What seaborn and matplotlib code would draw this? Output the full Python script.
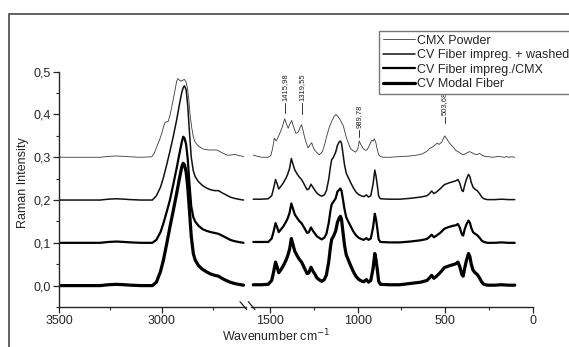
import numpy as np
import pandas as pd
import matplotlib
matplotlib.use("Agg")
import matplotlib.pyplot as plt
import seaborn as sns
from matplotlib.patches import Rectangle
from matplotlib.lines import Line2D

sns.set_style("ticks")
plt.rcParams['font.family'] = ['Liberation Sans', 'DejaVu Sans']

series_names = ["CMX Powder", "CV Fiber impreg. + washed", "CV Fiber impreg./CMX", "CV Modal Fiber"]

# ---- high wavenumber region (left panel) ----
wn_cmx_left = [3500, 3400, 3300, 3260, 3220, 3180, 3150, 3100, 3048, 3035, 3023, 3010, 2999, 2990,
               2983, 2975, 2967, 2958, 2950, 2942, 2934, 2926, 2920, 2912, 2905, 2897, 2889, 2880,
               2873, 2866, 2861, 2853, 2845, 2837, 2820, 2796, 2770, 2747, 2730, 2715, 2698, 2680,
               2666, 2650, 2641, 2625, 2610, 2600]
cmx_left = [0.300, 0.300, 0.300, 0.302, 0.303, 0.302, 0.301, 0.300, 0.301, 0.310, 0.325, 0.340, 0.356, 0.372,
            0.381, 0.383, 0.384, 0.400, 0.418, 0.438, 0.457, 0.478, 0.484, 0.480, 0.478, 0.480, 0.482, 0.476,
            0.460, 0.430, 0.400, 0.370, 0.348, 0.336, 0.326, 0.319, 0.317, 0.317, 0.317, 0.313, 0.309, 0.305,
            0.305, 0.306, 0.307, 0.304, 0.303, 0.301]

wn_cv_left = [3500, 3400, 3300, 3260, 3220, 3180, 3150, 3100, 3045, 3025, 3005, 2991, 2975, 2959, 2942,
              2926, 2912, 2901, 2894, 2888, 2880, 2872, 2864, 2855, 2845, 2836, 2820, 2800, 2780, 2760,
              2740, 2722, 2705, 2685, 2665, 2645, 2625, 2600]
washed_left = [0.200, 0.200, 0.200, 0.202, 0.203, 0.202, 0.201, 0.200, 0.200, 0.210, 0.230, 0.252, 0.282, 0.314, 0.350,
               0.388, 0.425, 0.452, 0.463, 0.467, 0.458, 0.420, 0.360, 0.300, 0.268, 0.255, 0.243, 0.234, 0.228, 0.224,
               0.222, 0.222, 0.217, 0.212, 0.207, 0.204, 0.202, 0.200]
impreg_left = [0.100, 0.100, 0.100, 0.102, 0.103, 0.102, 0.101, 0.100, 0.100, 0.107, 0.125, 0.145, 0.172, 0.200, 0.238,
               0.275, 0.310, 0.336, 0.348, 0.345, 0.330, 0.295, 0.240, 0.185, 0.160, 0.150, 0.140, 0.132, 0.128, 0.125,
               0.123, 0.121, 0.117, 0.112, 0.107, 0.104, 0.102, 0.100]
modal_left = [0.000, 0.000, 0.000, 0.002, 0.003, 0.002, 0.001, 0.000, 0.000, 0.008, 0.033, 0.059, 0.097, 0.137, 0.177,
              0.216, 0.252, 0.278, 0.286, 0.282, 0.266, 0.230, 0.176, 0.115, 0.075, 0.060, 0.047, 0.038, 0.032, 0.027,
              0.024, 0.022, 0.017, 0.012, 0.008, 0.005, 0.003, 0.001]

# ---- fingerprint region (right panel) ----
wn_cmx_right = [1595, 1570, 1547, 1510, 1495, 1485, 1475, 1465, 1455, 1443, 1430, 1416, 1406, 1396, 1386, 1376,
                1366, 1352, 1340, 1330, 1319, 1310, 1300, 1290, 1282, 1270, 1262, 1252, 1244, 1230, 1219, 1208,
                1200, 1188, 1177, 1163, 1149, 1135, 1124, 1112, 1100, 1090, 1082, 1072, 1063, 1050, 1040, 1025,
                1012, 1000, 991, 982, 968, 955, 945, 930, 920, 912, 905, 896, 888, 880, 870, 854, 820, 780, 740,
                700, 664, 630, 605, 590, 570, 555, 545, 535, 520, 510, 503, 495, 484, 470, 455, 440, 427, 410,
                398, 385, 370, 360, 345, 330, 320, 305, 290, 275, 250, 227, 200, 180, 160, 151, 140, 120, 104]
cmx_right = [0.305, 0.302, 0.300, 0.300, 0.304, 0.320, 0.345, 0.338, 0.345, 0.357, 0.370, 0.390, 0.378, 0.368, 0.378, 0.386,
             0.372, 0.356, 0.358, 0.368, 0.376, 0.360, 0.343, 0.330, 0.322, 0.330, 0.334, 0.322, 0.316, 0.310, 0.306, 0.310,
             0.314, 0.330, 0.348, 0.368, 0.383, 0.395, 0.400, 0.395, 0.388, 0.380, 0.374, 0.358, 0.344, 0.330, 0.320, 0.315,
             0.312, 0.318, 0.338, 0.330, 0.320, 0.316, 0.318, 0.330, 0.340, 0.338, 0.343, 0.334, 0.318, 0.306, 0.302, 0.300,
             0.300, 0.301, 0.302, 0.303, 0.305, 0.308, 0.314, 0.320, 0.325, 0.330, 0.333, 0.330, 0.336, 0.345, 0.350, 0.345,
             0.338, 0.330, 0.324, 0.316, 0.313, 0.308, 0.306, 0.308, 0.312, 0.313, 0.310, 0.307, 0.306, 0.309, 0.305, 0.302,
             0.301, 0.300, 0.302, 0.301, 0.300, 0.302, 0.300, 0.301, 0.300]

wn_cv_right = [1595, 1550, 1510, 1490, 1480, 1468, 1460, 1450, 1436, 1424, 1410, 1400, 1388, 1378, 1368, 1358,
               1345, 1335, 1320, 1310, 1300, 1288, 1278, 1266, 1255, 1244, 1232, 1220, 1205, 1190, 1178, 1165,
               1155, 1148, 1138, 1125, 1115, 1105, 1098, 1092, 1085, 1075, 1065, 1055, 1040, 1025, 1010, 995,
               980, 965, 950, 938, 925, 912, 902, 895, 888, 880, 870, 820, 760, 700, 640, 605, 590, 578, 565,
               550, 530, 505, 480, 455, 440, 428, 418, 405, 398, 390, 380, 368, 360, 352, 342, 330, 318, 305,
               292, 280, 260, 220, 180, 140, 104]
modal_right = [0.002, 0.002, 0.003, 0.012, 0.030, 0.055, 0.045, 0.030, 0.038, 0.046, 0.058, 0.068, 0.085, 0.110, 0.095, 0.080,
               0.070, 0.063, 0.055, 0.047, 0.038, 0.028, 0.030, 0.043, 0.034, 0.027, 0.018, 0.014, 0.010, 0.014, 0.025, 0.055,
               0.090, 0.108, 0.115, 0.128, 0.148, 0.158, 0.162, 0.155, 0.130, 0.095, 0.072, 0.062, 0.047, 0.033, 0.022, 0.015,
               0.011, 0.009, 0.014, 0.008, 0.012, 0.040, 0.075, 0.060, 0.038, 0.010, 0.003, 0.002, 0.002, 0.005, 0.008, 0.012,
               0.018, 0.024, 0.017, 0.022, 0.030, 0.042, 0.046, 0.049, 0.051, 0.055, 0.045, 0.025, 0.022, 0.040, 0.058, 0.075,
               0.068, 0.050, 0.036, 0.030, 0.026, 0.018, 0.008, 0.003, 0.001, 0.001, 0.002, 0.001, 0.001]
impreg_right = [0.102, 0.102, 0.102, 0.110, 0.125, 0.146, 0.138, 0.125, 0.132, 0.138, 0.148, 0.156, 0.170, 0.192, 0.179, 0.166,
                0.158, 0.152, 0.146, 0.139, 0.132, 0.123, 0.125, 0.136, 0.128, 0.122, 0.115, 0.112, 0.108, 0.112, 0.121, 0.146,
                0.175, 0.190, 0.196, 0.204, 0.220, 0.224, 0.227, 0.222, 0.205, 0.179, 0.160, 0.151, 0.139, 0.127, 0.118, 0.112,
                0.109, 0.107, 0.111, 0.107, 0.110, 0.136, 0.168, 0.155, 0.134, 0.108, 0.102, 0.101, 0.101, 0.103, 0.106, 0.109,
                0.114, 0.119, 0.113, 0.117, 0.123, 0.133, 0.137, 0.140, 0.141, 0.144, 0.136, 0.119, 0.117, 0.131, 0.143, 0.152,
                0.147, 0.135, 0.125, 0.121, 0.118, 0.112, 0.105, 0.102, 0.100, 0.100, 0.101, 0.100, 0.100]
washed_right = [0.202, 0.202, 0.203, 0.210, 0.226, 0.248, 0.239, 0.226, 0.233, 0.240, 0.250, 0.259, 0.274, 0.297, 0.283, 0.270,
                0.261, 0.255, 0.248, 0.241, 0.233, 0.224, 0.226, 0.237, 0.230, 0.223, 0.216, 0.212, 0.209, 0.212, 0.222, 0.248,
                0.278, 0.294, 0.300, 0.312, 0.328, 0.336, 0.338, 0.333, 0.313, 0.283, 0.263, 0.254, 0.241, 0.229, 0.219, 0.213,
                0.210, 0.208, 0.212, 0.207, 0.210, 0.237, 0.270, 0.256, 0.235, 0.209, 0.203, 0.202, 0.202, 0.204, 0.207, 0.210,
                0.215, 0.221, 0.215, 0.219, 0.226, 0.236, 0.240, 0.243, 0.245, 0.248, 0.240, 0.222, 0.220, 0.234, 0.248, 0.260,
                0.255, 0.241, 0.230, 0.225, 0.222, 0.215, 0.207, 0.203, 0.201, 0.201, 0.202, 0.201, 0.201]

# peak labels
ann_wn = [1415.98, 1319.55, 989.78, 503.6]
ann_text = ["1415,98", "1319,55", "989,78", "503,68"]
ann_tick_low = [0.403, 0.400, 0.347, 0.380]
ann_tick_high = [0.427, 0.427, 0.363, 0.394]

yticks = [0.0, 0.1, 0.2, 0.3, 0.4, 0.5]
yticklabels = ["0,0", "0,1", "0,2", "0,3", "0,4", "0,5"]

styles = {
    "CMX Powder": dict(color="#3a3a3a", lw=0.6),
    "CV Fiber impreg. + washed": dict(color="#111111", lw=1.1),
    "CV Fiber impreg./CMX": dict(color="#000000", lw=1.6),
    "CV Modal Fiber": dict(color="#000000", lw=2.3),
}

left_df = pd.concat([
    pd.DataFrame({"wn": wn_cmx_left, "I": cmx_left, "s": series_names[0]}),
    pd.DataFrame({"wn": wn_cv_left, "I": washed_left, "s": series_names[1]}),
    pd.DataFrame({"wn": wn_cv_left, "I": impreg_left, "s": series_names[2]}),
    pd.DataFrame({"wn": wn_cv_left, "I": modal_left, "s": series_names[3]}),
])
right_df = pd.concat([
    pd.DataFrame({"wn": wn_cmx_right, "I": cmx_right, "s": series_names[0]}),
    pd.DataFrame({"wn": wn_cv_right, "I": washed_right, "s": series_names[1]}),
    pd.DataFrame({"wn": wn_cv_right, "I": impreg_right, "s": series_names[2]}),
    pd.DataFrame({"wn": wn_cv_right, "I": modal_right, "s": series_names[3]}),
])

W, H = 569, 347
fig = plt.figure(figsize=(W / 100, H / 100), dpi=100)
y0 = 1 - 307 / H
hgt = (307 - 71.7) / H
axL = fig.add_axes([59 / W, y0, (246 - 59) / W, hgt])
axR = fig.add_axes([251 / W, y0, (533 - 251) / W, hgt])

for ax, df in ((axL, left_df), (axR, right_df)):
    for name in series_names:
        sub = df[df["s"] == name]
        st = styles[name]
        sns.lineplot(data=sub, x="wn", y="I", ax=ax, estimator=None, sort=True,
                     color=st["color"], linewidth=st["lw"], label=name)
    if ax.get_legend() is not None:
        ax.get_legend().remove()
    ax.set_ylim(-0.05, 0.5)
    ax.set_xlabel("")
    ax.set_ylabel("")
    for sp in ("top", "right"):
        ax.spines[sp].set_visible(False)
    ax.spines["bottom"].set_linewidth(1.0)
    ax.spines["left"].set_linewidth(1.0)
    ax.tick_params(axis="both", which="major", direction="out", length=4, width=0.9, labelsize=9, pad=2)
    ax.tick_params(axis="both", which="minor", direction="out", length=2.5, width=0.8)
    ax.set_facecolor("none")

axL.set_xlim(3500, 2588)
axL.set_xticks([3500, 3000])
axL.set_xticklabels(["3500", "3000"])
axL.set_xticks([3250, 2750], minor=True)
axL.set_yticks(yticks)
axL.set_yticklabels(yticklabels)
axL.set_yticks([-0.05, 0.05, 0.15, 0.25, 0.35, 0.45], minor=True)

axR.set_xlim(1608, 0)
axR.set_xticks([1500, 1000, 500, 0])
axR.set_xticklabels(["1500", "1000", "500", "0"])
axR.set_xticks([1250, 750, 250], minor=True)
axR.spines["left"].set_visible(False)
axR.tick_params(axis="y", which="both", left=False, labelleft=False)

# peak annotations
for wn, txt, lo, hi in zip(ann_wn, ann_text, ann_tick_low, ann_tick_high):
    axR.plot([wn, wn], [lo, hi], color="#333333", lw=0.7, clip_on=False)
    axR.text(wn, hi + 0.005, txt, rotation=90, ha="center", va="bottom", fontsize=5.5,
             color="#222222", clip_on=False)

# broken-axis marks
for xs in ((240, 246.7), (248.3, 255)):
    fig.add_artist(Line2D([xs[0] / W, xs[1] / W], [1 - 301.7 / H, 1 - 309.5 / H],
                          transform=fig.transFigure, color="#222222", lw=0.9))

# labels
fig.text(23 / W, 1 - 182.5 / H, "Raman Intensity", rotation=90, ha="center", va="center", fontsize=9)
fig.text(276 / W, 1 - 341 / H, "Wavenumber cm$^{-1}$", ha="center", va="baseline", fontsize=9)

# outer frame
fig.add_artist(Rectangle((9 / W, -0.2), 1.0, 1.2 - 14 / H, transform=fig.transFigure,
                         fill=False, edgecolor="#555555", lw=1.3))

# legend
hs = [Line2D([0], [0], color=styles[n]["color"], lw=styles[n]["lw"]) for n in series_names]
leg = fig.legend(hs, series_names, loc="upper left", bbox_to_anchor=(379 / W, 1 - 31 / H),
                 bbox_transform=fig.transFigure, fontsize=9, frameon=True, fancybox=False,
                 handlelength=2.6, handletextpad=0.15, borderpad=0.3, labelspacing=0.2,
                 borderaxespad=0, framealpha=1)
leg.get_frame().set_edgecolor("#777777")
leg.get_frame().set_linewidth(1.0)
leg.set_zorder(10)

fig.savefig("out.png", dpi=100)
